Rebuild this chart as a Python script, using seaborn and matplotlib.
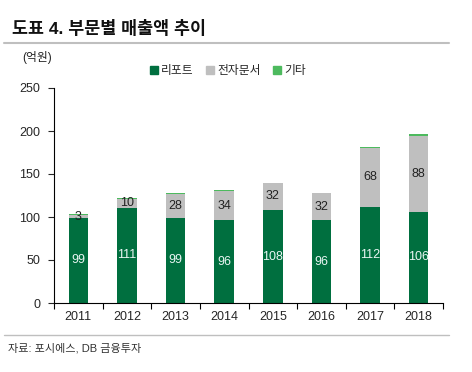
import pandas as pd
import numpy as np
import matplotlib
matplotlib.use("Agg")
import matplotlib.pyplot as plt
import seaborn as sns
from matplotlib.patches import Patch
from matplotlib.lines import Line2D

years = ["2011", "2012", "2013", "2014", "2015", "2016", "2017", "2018"]
report = [99, 111, 99, 96, 108, 96, 112, 106]
edoc = [3, 10, 28, 34, 32, 32, 68, 88]
etc = [1.5, 1, 1, 1.5, 0, 0, 1, 2.5]

green = "#006F3F"
gray = "#BFBFBF"
light = "#4DBA5E"

sns.set_theme(style="ticks")
plt.rcParams["font.family"] = ["Liberation Sans", "Noto Sans CJK KR"]

df = pd.DataFrame({"year": years, "report": report, "edoc": edoc, "etc": etc})
df["s2"] = df["report"] + df["edoc"]
df["s3"] = df["s2"] + df["etc"]

fig = plt.figure(figsize=(4.72, 3.72), dpi=100)
ax = fig.add_axes([54 / 472, 69 / 372, 389 / 472, 215 / 372])

# stacked by overlaying cumulative totals
sns.barplot(data=df, x="year", y="s3", color=light, width=0.4, saturation=1, ax=ax)
sns.barplot(data=df, x="year", y="s2", color=gray, width=0.4, saturation=1, ax=ax)
sns.barplot(data=df, x="year", y="report", color=green, width=0.4, saturation=1, ax=ax)
for p in ax.patches:
    p.set_linewidth(0)

for i in range(len(years)):
    ax.text(i, report[i] / 2, f"{report[i]}", ha="center", va="center",
            color="#EAF6F4", fontsize=9)
    ax.text(i, report[i] + edoc[i] / 2, f"{edoc[i]}", ha="center", va="center",
            color="#222222", fontsize=9)

ax.set_xlim(-0.5, 7.5)
ax.set_ylim(0, 250)
ax.set_yticks([0, 50, 100, 150, 200, 250])
ax.set_xlabel("")
ax.set_ylabel("")
ax.set_xticks(np.arange(-0.5, 8, 1), minor=False)
ax.set_xticklabels([])
ax.set_xticks(range(len(years)), minor=True)
ax.set_xticklabels(years, minor=True)
ax.tick_params(axis="x", which="major", length=4, width=0.8, color="black")
ax.tick_params(axis="x", which="minor", length=0, labelsize=9, pad=6)
ax.tick_params(axis="y", length=4, width=0.8, labelsize=9, pad=6)
for s in ["top", "right"]:
    ax.spines[s].set_visible(False)
for s in ["left", "bottom"]:
    ax.spines[s].set_color("black")
    ax.spines[s].set_linewidth(0.8)

fig.text(12 / 472, 1 - 28 / 372, "도표 4. 부문별 매출액 추이", fontsize=12.5,
         fontweight="bold", va="center", ha="left", color="#111111")
fig.add_artist(Line2D([4 / 472, 449 / 472], [1 - 43 / 372] * 2, color="#BFBFBF", lw=1.5))
fig.text(22 / 472, 1 - 58 / 372, "(억원)", fontsize=8.5, va="center", ha="left", color="#222222")

handles = [Patch(color=green, label="리포트"), Patch(color=gray, label="전자문서"),
           Patch(color=light, label="기타")]
fig.legend(handles=handles, loc="center", bbox_to_anchor=(228 / 472, 1 - 71 / 372), ncol=3,
           frameon=False, fontsize=8.5, handlelength=0.7, handleheight=0.7,
           handletextpad=0.3, columnspacing=1.0)

fig.add_artist(Line2D([4 / 472, 449 / 472], [1 - 335 / 372] * 2, color="#BFBFBF", lw=1))
fig.text(8 / 472, 1 - 348 / 372, "자료: 포시에스, DB 금융투자", fontsize=8,
         va="center", ha="left", color="#333333")

fig.savefig("out.png", dpi=100)
